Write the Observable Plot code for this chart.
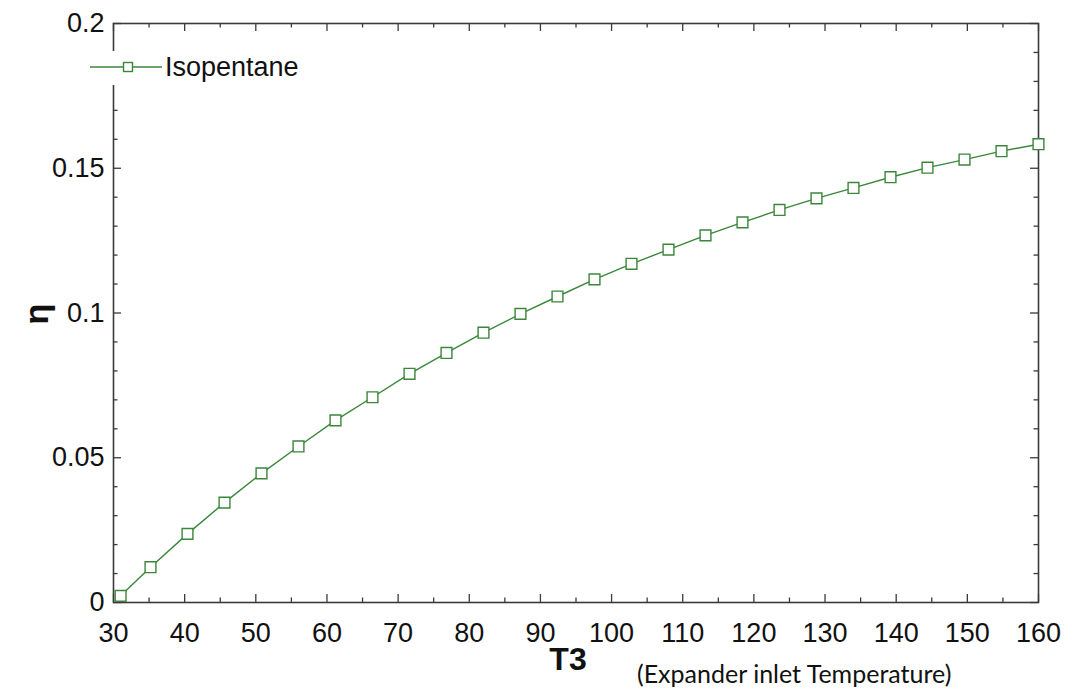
<!DOCTYPE html>
<html>
<head>
<meta charset="utf-8">
<script src="https://cdn.jsdelivr.net/npm/d3@7"></script>
<script src="https://cdn.jsdelivr.net/npm/@observablehq/plot@0.6"></script>
<style>
  body { margin: 0; background: #fff; }
  #chart { width: 1071px; height: 692px; }
</style>
</head>
<body>
<div id="chart"></div>
<script>
// ---- data ----
const T3 = [31, 35.2, 40.4, 45.6, 50.8, 56, 61.2, 66.4, 71.6, 76.8, 82, 87.2, 92.4, 97.6, 102.8, 108, 113.2, 118.4, 123.6, 128.8, 134, 139.2, 144.4, 149.6, 154.8, 160];
const eta = [0.0023, 0.0122, 0.0237, 0.0345, 0.0446, 0.0539, 0.0629, 0.0709, 0.0790, 0.0862, 0.0932, 0.0997, 0.1057, 0.1116, 0.1170, 0.1219, 0.1268, 0.1313, 0.1356, 0.1396, 0.1432, 0.1469, 0.1502, 0.1530, 0.1559, 0.1583];
const xMajorTicks = [30, 40, 50, 60, 70, 80, 90, 100, 110, 120, 130, 140, 150, 160];
const xMinorTicks = [35, 45, 55, 65, 75, 85, 95, 105, 115, 125, 135, 145, 155];
const yMajorTicks = [0, 0.05, 0.1, 0.15, 0.2];
const yMinorTicks = [0.01, 0.02, 0.03, 0.04, 0.06, 0.07, 0.08, 0.09, 0.11, 0.12, 0.13, 0.14, 0.16, 0.17, 0.18, 0.19];
const seriesName = "Isopentane";
const xTitle = "T3";
const xSubtitle = "(Expander inlet Temperature)";
const yTitle = "η";

const data = T3.map((t, i) => ({t, eta: eta[i]}));

const W = 1071, H = 692, mL = 113, mR = 33, mT = 23, mB = 90;
const innerW = W - mL - mR, innerH = H - mT - mB;
const green = "#3b863b";
const axisColor = "#3a3a3a";
const majorLen = 8, minorLen = 4.5;
const sans = "'Liberation Sans', Arial, sans-serif";

const plot = Plot.plot({
  width: W, height: H,
  marginLeft: mL, marginRight: mR, marginTop: mT, marginBottom: mB,
  style: {fontFamily: sans, fontSize: "27px", color: "#111", background: "#fff"},
  x: {domain: [30, 160]},
  y: {domain: [0, 0.2]},
  marks: [
    Plot.axisX(xMajorTicks, {tickSize: 0, tickPadding: 20, tickFormat: d => String(d), fontSize: 27, label: null}),
    Plot.axisY(yMajorTicks, {tickSize: 0, tickPadding: 9, tickFormat: d => String(d), fontSize: 27, label: null}),
    // inward ticks: bottom & top
    Plot.tickX(xMajorTicks, {x: d => d, insetTop: innerH - majorLen, stroke: axisColor, strokeWidth: 1.3}),
    Plot.tickX(xMinorTicks, {x: d => d, insetTop: innerH - minorLen, stroke: axisColor, strokeWidth: 1.3}),
    Plot.tickX(xMajorTicks, {x: d => d, insetBottom: innerH - majorLen, stroke: axisColor, strokeWidth: 1.3}),
    Plot.tickX(xMinorTicks, {x: d => d, insetBottom: innerH - minorLen, stroke: axisColor, strokeWidth: 1.3}),
    // inward ticks: left & right
    Plot.tickY(yMajorTicks, {y: d => d, insetRight: innerW - majorLen, stroke: axisColor, strokeWidth: 1.3}),
    Plot.tickY(yMinorTicks, {y: d => d, insetRight: innerW - minorLen, stroke: axisColor, strokeWidth: 1.3}),
    Plot.tickY(yMajorTicks, {y: d => d, insetLeft: innerW - majorLen, stroke: axisColor, strokeWidth: 1.3}),
    Plot.tickY(yMinorTicks, {y: d => d, insetLeft: innerW - minorLen, stroke: axisColor, strokeWidth: 1.3}),
    Plot.frame({stroke: axisColor, strokeWidth: 1.6}),
    Plot.line(data, {x: "t", y: "eta", stroke: green, strokeWidth: 1.4}),
    Plot.dot(data, {x: "t", y: "eta", symbol: "square", r: 6.1, stroke: green, fill: "white", strokeWidth: 1.4})
  ]
});

document.getElementById("chart").appendChild(plot);

// ---- legend and titles ----
const svg = d3.select(plot);
const lg = svg.append("g");
lg.append("rect").attr("x", 86).attr("y", 51).attr("width", 222).attr("height", 34).attr("fill", "white");
lg.append("line").attr("x1", 90).attr("x2", 162).attr("y1", 67).attr("y2", 67)
  .attr("stroke", green).attr("stroke-width", 1.4);
lg.append("rect").attr("x", 123.5).attr("y", 62.5).attr("width", 9).attr("height", 9)
  .attr("fill", "white").attr("stroke", green).attr("stroke-width", 1.4);
lg.append("text").attr("x", 165).attr("y", 67).attr("dominant-baseline", "central")
  .attr("text-anchor", "start")
  .attr("font-family", sans).attr("font-size", 27).attr("fill", "#111")
  .text(seriesName);

svg.append("text")
  .attr("transform", "translate(36,314) rotate(-90)")
  .attr("text-anchor", "middle").attr("dominant-baseline", "central")
  .attr("font-family", sans).attr("font-weight", "bold")
  .attr("font-size", 34).attr("fill", "#111")
  .text(yTitle);

svg.append("text")
  .attr("x", 568).attr("y", 659)
  .attr("text-anchor", "middle").attr("dominant-baseline", "central")
  .attr("font-family", sans).attr("font-weight", "bold")
  .attr("font-size", 32).attr("fill", "#111")
  .text(xTitle);

svg.append("text")
  .attr("x", 637).attr("y", 673)
  .attr("text-anchor", "start").attr("dominant-baseline", "central")
  .attr("font-family", "Lato, 'Open Sans', sans-serif")
  .attr("font-size", 25).attr("fill", "#111")
  .text(xSubtitle);
</script>
</body>
</html>
